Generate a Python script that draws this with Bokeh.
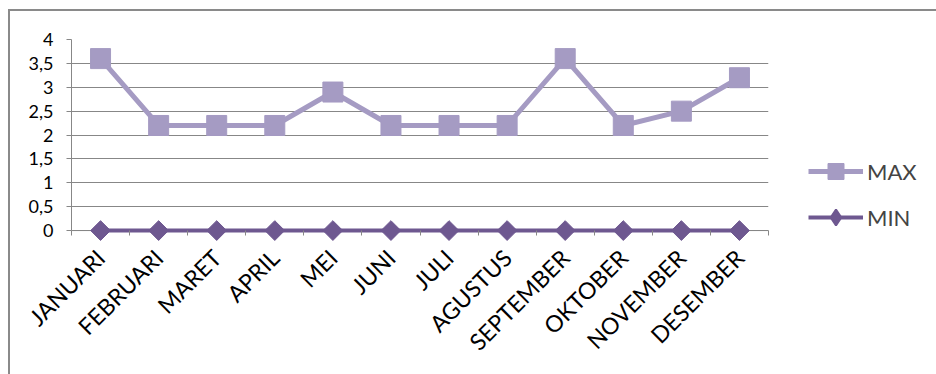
import numpy as np
from bokeh.plotting import figure
from bokeh.layouts import row
from bokeh.models import (ColumnDataSource, FixedTicker, Range1d, Legend, LegendItem, Span)
from bokeh.embed import file_html
from bokeh.resources import INLINE

months = ["JANUARI", "FEBRUARI", "MARET", "APRIL", "MEI", "JUNI", "JULI",
          "AGUSTUS", "SEPTEMBER", "OKTOBER", "NOVEMBER", "DESEMBER"]
max_vals = [3.6, 2.2, 2.2, 2.2, 2.9, 2.2, 2.2, 2.2, 3.6, 2.2, 2.5, 3.2]
min_vals = [0, 0, 0, 0, 0, 0, 0, 0, 0, 0, 0, 0]
y_ticks = [0, 0.5, 1, 1.5, 2, 2.5, 3, 3.5, 4]
y_tick_labels = ["0", "0,5", "1", "1,5", "2", "2,5", "3", "3,5", "4"]
series_names = ["MAX", "MIN"]

MAX_COLOR = "#A59BC3"
MIN_COLOR = "#6E5890"
GRID = "#878787"
FONT = "Lato"

xpos = [i + 0.5 for i in range(len(months))]
src = ColumnDataSource(dict(x=xpos, mx=max_vals, mn=min_vals))

p = figure(width=780, height=363, output_backend="svg", toolbar_location=None,
           x_range=Range1d(0, len(months)), y_range=Range1d(-0.25, 4),
           min_border_left=61, min_border_right=22, min_border_top=28,
           min_border_bottom=132)
p.outline_line_color = None

# grid
p.xgrid.grid_line_color = None
p.ygrid.grid_line_color = GRID
p.ygrid.grid_line_width = 1

# y axis
p.yaxis.ticker = FixedTicker(ticks=y_ticks)
p.yaxis.bounds = (0, 4)
p.yaxis.major_label_overrides = {t: l for t, l in zip(y_ticks, y_tick_labels)}
p.yaxis.axis_line_color = GRID
p.yaxis.major_tick_line_color = GRID
p.yaxis.major_tick_in = 0
p.yaxis.major_tick_out = 5
p.yaxis.minor_tick_line_color = None
p.yaxis.major_label_text_font = FONT
p.yaxis.major_label_text_font_size = "18px"
p.yaxis.major_label_text_color = "black"
p.yaxis.major_label_standoff = 13

# x axis line at y = 0, ticks between categories
p.add_layout(Span(location=0, dimension="width", line_color=GRID, line_width=1,
                  level="underlay"))
p.xaxis.ticker = FixedTicker(ticks=xpos, minor_ticks=list(range(len(months) + 1)))
p.xaxis.major_label_overrides = {x: m for x, m in zip(xpos, months)}
p.xaxis.axis_line_color = None
p.xaxis.major_tick_line_color = None
p.xaxis.major_tick_in = 0
p.xaxis.major_tick_out = 0
p.xaxis.minor_tick_line_color = GRID
p.xaxis.minor_tick_in = 12
p.xaxis.minor_tick_out = -7
p.xaxis.major_label_orientation = np.pi / 4
p.xaxis.major_label_text_font = FONT
p.xaxis.major_label_text_font_size = "23px"
p.xaxis.major_label_text_color = "black"
p.xaxis.major_label_standoff = 11

p.line("x", "mx", source=src, line_color=MAX_COLOR, line_width=5)
p.scatter("x", "mx", source=src, marker="square", size=20,
          fill_color=MAX_COLOR, line_color=MAX_COLOR)
p.line("x", "mn", source=src, line_color=MIN_COLOR, line_width=4)
p.scatter("x", "mn", source=src, marker="square", angle=np.pi / 4, size=14,
          fill_color=MIN_COLOR, line_color=MIN_COLOR)

# legend panel (series drawn outside its visible range; only the legend shows)
q = figure(width=146, height=363, output_backend="svg", toolbar_location=None,
           x_range=Range1d(-30, -29), y_range=Range1d(-30, -29),
           min_border_left=0, min_border_right=0, min_border_top=0,
           min_border_bottom=0)
q.axis.visible = False
q.grid.grid_line_color = None
q.outline_line_color = None
lq_max = q.line("x", "mx", source=src, line_color=MAX_COLOR, line_width=5)
sq_max = q.scatter("x", "mx", source=src, marker="square", size=16,
                   fill_color=MAX_COLOR, line_color=MAX_COLOR)
lq_min = q.line("x", "mn", source=src, line_color=MIN_COLOR, line_width=4)
sq_min = q.scatter("x", "mn", source=src, marker="diamond", size=16,
                   fill_color=MIN_COLOR, line_color=MIN_COLOR, line_width=2)

legend = Legend(items=[LegendItem(label=series_names[0], renderers=[lq_max, sq_max]),
                       LegendItem(label=series_names[1], renderers=[lq_min, sq_min])],
                location=(18, 5), padding=0, margin=0, spacing=6,
                glyph_width=55, glyph_height=40, label_standoff=4,
                border_line_alpha=0, background_fill_alpha=0,
                label_text_font=FONT, label_text_font_size="22px")
q.add_layout(legend, "center")

layout = row(p, q)
layout.margin = (9, 0, 0, 8)
layout.styles = {"border-left": "2px solid #8a8a8a", "border-top": "2px solid #8a8a8a"}

open("out.html", "w").write(file_html(layout, INLINE))
